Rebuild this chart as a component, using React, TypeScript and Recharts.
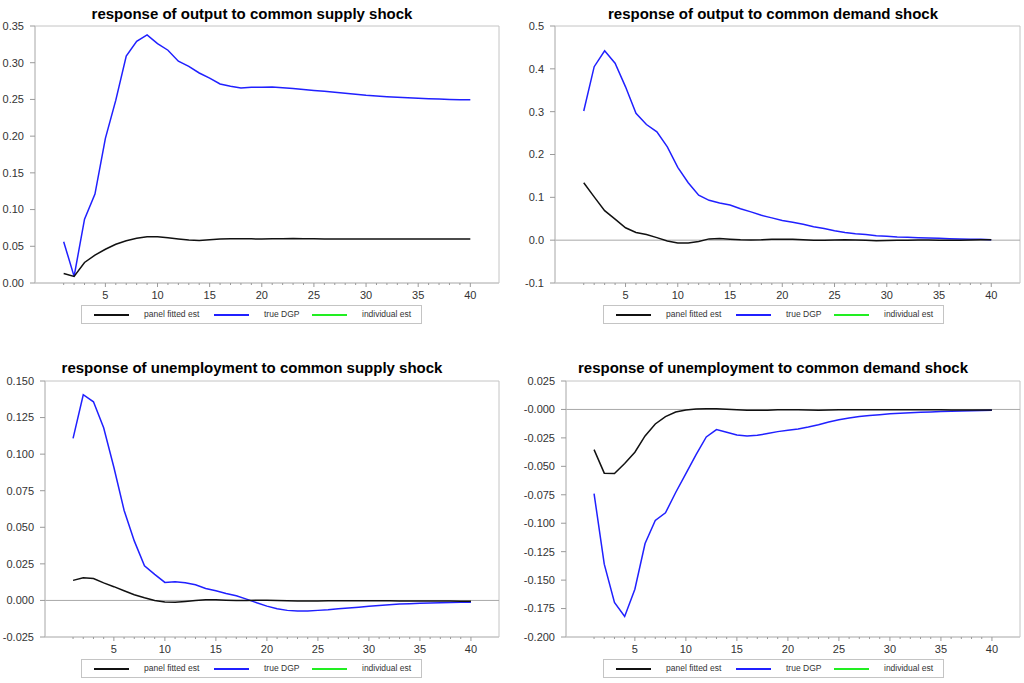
import { LineChart, Line, XAxis, YAxis, ReferenceLine, ReferenceArea } from "recharts";

const periods = [
  1, 2, 3, 4, 5, 6, 7, 8, 9, 10, 11, 12, 13, 14, 15, 16, 17, 18, 19, 20,
  21, 22, 23, 24, 25, 26, 27, 28, 29, 30, 31, 32, 33, 34, 35, 36, 37, 38, 39, 40,
];
const xTickLabels = ["5", "10", "15", "20", "25", "30", "35", "40"];

// output -> common supply shock
const outSupplyPanel = [
  0.013, 0.009, 0.028, 0.038, 0.046, 0.0527, 0.0576, 0.061, 0.063, 0.063,
  0.0617, 0.06, 0.0585, 0.058, 0.059, 0.06, 0.0604, 0.0602, 0.0601, 0.06,
  0.0603, 0.0604, 0.0606, 0.0603, 0.0601, 0.06, 0.06, 0.06, 0.06, 0.06,
  0.06, 0.06, 0.06, 0.06, 0.06, 0.06, 0.06, 0.06, 0.06, 0.06,
];
const outSupplyTrue = [
  0.0563, 0.009, 0.087, 0.121, 0.197, 0.249, 0.309, 0.329, 0.338, 0.326,
  0.317, 0.302, 0.295, 0.286, 0.279, 0.271, 0.268, 0.2655, 0.2665, 0.2665,
  0.267, 0.266, 0.265, 0.2635, 0.2622, 0.261, 0.2597, 0.2584, 0.2572, 0.2558,
  0.2548, 0.2538, 0.253, 0.2523, 0.2515, 0.251, 0.2505, 0.25, 0.2497, 0.2495,
];

// output -> common demand shock
const outDemandPanel = [
  0.134, 0.101, 0.069, 0.049, 0.029, 0.018, 0.013, 0.006, -0.002, -0.0066,
  -0.0066, -0.003, 0.003, 0.004, 0.0023, 0.0008, 0.0004, 0.0008, 0.002, 0.0023,
  0.002, 0.0008, -0.0004, -0.0004, 0.0004, 0.0008, 0.0004, -0.0004, -0.0012, -0.0008,
  -0.0004, 0, 0.0004, 0.0004, 0, -0.0004, 0, 0.0004, 0.0008, 0.0008,
];
const outDemandTrue = [
  0.3016, 0.405, 0.442, 0.413, 0.358, 0.296, 0.27, 0.253, 0.218, 0.17,
  0.134, 0.105, 0.093, 0.087, 0.082, 0.0735, 0.066, 0.058, 0.052, 0.046,
  0.0416, 0.037, 0.0315, 0.027, 0.022, 0.018, 0.015, 0.013, 0.0105, 0.009,
  0.0074, 0.0066, 0.0058, 0.005, 0.0043, 0.0035, 0.0027, 0.0023, 0.002, 0.0012,
];

// unemployment -> common supply shock
const unSupplyPanel = [
  0.0137, 0.0155, 0.015, 0.012, 0.0094, 0.0066, 0.0039, 0.0018, 0.0, -0.0011,
  -0.0013, -0.0007, 0.0, 0.0005, 0.0005, 0.0002, 0.0, 0.0, 0.0002, 0.0002,
  0.0, -0.0002, -0.0004, -0.0004, -0.0004, -0.0003, -0.0003, -0.0003, -0.0003, -0.0003,
  -0.0003, -0.0003, -0.0004, -0.0004, -0.0004, -0.0004, -0.0004, -0.0004, -0.0005, -0.0005,
];
const unSupplyTrue = [
  0.1108, 0.1406, 0.1358, 0.118, 0.091, 0.0617, 0.0407, 0.0237, 0.0178, 0.0123,
  0.0127, 0.0121, 0.0107, 0.0082, 0.0066, 0.0048, 0.0032, 0.0009, -0.0016, -0.0039,
  -0.0057, -0.0068, -0.0073, -0.0073, -0.0068, -0.0064, -0.0057, -0.0052, -0.0046, -0.0039,
  -0.0034, -0.003, -0.0025, -0.0023, -0.002, -0.0018, -0.0016, -0.0015, -0.0013, -0.0012,
];

// unemployment -> common demand shock
const unDemandPanel = [
  -0.0353, -0.056, -0.0563, -0.0476, -0.0376, -0.0233, -0.0128, -0.0063, -0.0022, -0.0005,
  0.0004, 0.0007, 0.0006, 0.0001, -0.0003, -0.0008, -0.0008, -0.0006, -0.0003, -0.0002,
  -0.0003, -0.0005, -0.0006, -0.0005, -0.0003, -0.0003, -0.0002, -0.0002, -0.0002, -0.0002,
  -0.0002, -0.0002, -0.0002, -0.0003, -0.0003, -0.0004, -0.0004, -0.0004, -0.0004, -0.0004,
];
const unDemandTrue = [
  -0.0739, -0.136, -0.1696, -0.182, -0.158, -0.1178, -0.0976, -0.0909, -0.073, -0.0564,
  -0.0397, -0.0242, -0.0177, -0.02, -0.0224, -0.0233, -0.0227, -0.0212, -0.0195, -0.0183,
  -0.0171, -0.0154, -0.0134, -0.011, -0.009, -0.0075, -0.0063, -0.0054, -0.0046, -0.0038,
  -0.0034, -0.003, -0.0025, -0.0022, -0.0019, -0.0016, -0.0013, -0.0011, -0.0009, -0.0008,
];

const yTicksOutSupply = [0, 0.05, 0.1, 0.15, 0.2, 0.25, 0.3, 0.35];
const yLabelsOutSupply = ["0.00", "0.05", "0.10", "0.15", "0.20", "0.25", "0.30", "0.35"];
const yTicksOutDemand = [-0.1, 0, 0.1, 0.2, 0.3, 0.4, 0.5];
const yLabelsOutDemand = ["-0.1", "0.0", "0.1", "0.2", "0.3", "0.4", "0.5"];
const yTicksUnSupply = [-0.025, 0, 0.025, 0.05, 0.075, 0.1, 0.125, 0.15];
const yLabelsUnSupply = ["-0.025", "0.000", "0.025", "0.050", "0.075", "0.100", "0.125", "0.150"];
const yTicksUnDemand = [-0.2, -0.175, -0.15, -0.125, -0.1, -0.075, -0.05, -0.025, 0, 0.025];
const yLabelsUnDemand = [
  "-0.200", "-0.175", "-0.150", "-0.125", "-0.100", "-0.075", "-0.050", "-0.025", "-0.000", "0.025",
];

const legendNames = ["panel fitted est", "true DGP", "individual est"];

const FONT = '"Liberation Sans", Arial, sans-serif';
const FRAME = "#c4c4c4";
const BLUE = "#2020ff";
const BLACK = "#111111";
const GREEN = "#22ee22";
const X_DOMAIN = [-1.75, 42.75];

function PeriodTick(props: any) {
  const { x, y, payload } = props;
  const v = payload.value;
  const major = v % 5 === 0;
  const label = major ? xTickLabels.find((t) => Number(t) === v) : null;
  return (
    <g>
      <line x1={x} x2={x} y1={y} y2={y + (major ? 4 : 2)} stroke="#9a9a9a" />
      {label && (
        <text x={x} y={y + 16} textAnchor="middle" fontSize={11} fontFamily={FONT} fill="#333">
          {label}
        </text>
      )}
    </g>
  );
}

function LegendBox({ left, top }: { left: number; top: number }) {
  const colors = [BLACK, BLUE, GREEN];
  const lineX = [12, 132, 230];
  return (
    <div
      style={{
        position: "absolute",
        left,
        top,
        width: 341,
        height: 19,
        border: `1px solid ${FRAME}`,
        boxSizing: "border-box",
        fontFamily: FONT,
        fontSize: 8.5,
        color: "#333",
      }}
    >
      {legendNames.map((name, i) => (
        <div key={name}>
          <div
            style={{
              position: "absolute",
              left: lineX[i],
              top: 8,
              width: 35,
              height: 1.5,
              background: colors[i],
            }}
          />
          <div style={{ position: "absolute", left: lineX[i] + 50, top: 3, lineHeight: "11px", whiteSpace: "nowrap" }}>
            {name}
          </div>
        </div>
      ))}
    </div>
  );
}

type PanelProps = {
  left: number;
  top: number;
  title: string;
  titleX: number;
  titleY: number;
  plotLeft: number;
  plotTop: number;
  plotRight: number;
  plotBottom: number;
  est: number[];
  dgp: number[];
  yTicks: number[];
  yLabels: string[];
  zeroLine: boolean;
  legendLeft: number;
  legendTop: number;
};

function Panel(p: PanelProps) {
  const rows = periods.map((t, i) => ({ t, est: p.est[i], dgp: p.dgp[i] }));
  const W = 512;
  const H = 340;
  const xAxisH = 20;
  const yMin = p.yTicks[0];
  const yMax = p.yTicks[p.yTicks.length - 1];
  return (
    <div style={{ position: "absolute", left: p.left, top: p.top, width: W, height: H + 3 }}>
      <div
        style={{
          position: "absolute",
          left: p.titleX,
          top: p.titleY,
          transform: "translateX(-50%)",
          whiteSpace: "nowrap",
          fontFamily: FONT,
          fontWeight: "bold",
          fontSize: 15,
          lineHeight: "18px",
          color: "#000",
        }}
      >
        {p.title}
      </div>
      <div style={{ position: "absolute", left: 0, top: 0 }}>
        <LineChart
          width={W}
          height={H}
          data={rows}
          margin={{ top: p.plotTop, right: W - p.plotRight, left: 0, bottom: H - p.plotBottom - xAxisH }}
        >
          <XAxis
            dataKey="t"
            type="number"
            domain={X_DOMAIN}
            ticks={periods}
            interval={0}
            height={xAxisH}
            tickSize={0}
            tickMargin={0}
            tickLine={false}
            axisLine={{ stroke: FRAME }}
            tick={<PeriodTick />}
          />
          <YAxis
            type="number"
            domain={[yMin, yMax]}
            ticks={p.yTicks}
            interval={0}
            width={p.plotLeft}
            tickSize={5}
            tickMargin={6}
            axisLine={{ stroke: FRAME }}
            tickLine={{ stroke: "#9a9a9a" }}
            tick={{ fontSize: 11, fontFamily: FONT, fill: "#333" }}
            tickFormatter={(v: number, i: number) => p.yLabels[i] ?? String(v)}
            allowDataOverflow
          />
          <ReferenceArea
            x1={X_DOMAIN[0]}
            x2={X_DOMAIN[1]}
            y1={yMin}
            y2={yMax}
            fill="none"
            stroke={FRAME}
            strokeWidth={1}
          />
          {p.zeroLine && <ReferenceLine y={0} stroke="#a8a8a8" strokeWidth={1} />}
          <Line
            dataKey="dgp"
            stroke={BLUE}
            strokeWidth={1.5}
            dot={false}
            type="linear"
            isAnimationActive={false}
          />
          <Line
            dataKey="est"
            stroke={BLACK}
            strokeWidth={1.5}
            dot={false}
            type="linear"
            isAnimationActive={false}
          />
        </LineChart>
      </div>
      <LegendBox left={p.legendLeft} top={p.legendTop} />
    </div>
  );
}

export default function App() {
  return (
    <div
      style={{
        position: "absolute",
        left: 0,
        top: 0,
        width: 1024,
        height: 683,
        background: "#fff",
        overflow: "hidden",
      }}
    >
      <Panel
        left={0}
        top={0}
        title="response of output to common supply shock"
        titleX={252}
        titleY={5}
        plotLeft={35}
        plotTop={26}
        plotRight={499}
        plotBottom={283}
        est={outSupplyPanel}
        dgp={outSupplyTrue}
        yTicks={yTicksOutSupply}
        yLabels={yLabelsOutSupply}
        zeroLine={false}
        legendLeft={81}
        legendTop={305}
      />
      <Panel
        left={512}
        top={0}
        title="response of output to common demand shock"
        titleX={261}
        titleY={5}
        plotLeft={43}
        plotTop={26}
        plotRight={508}
        plotBottom={283}
        est={outDemandPanel}
        dgp={outDemandTrue}
        yTicks={yTicksOutDemand}
        yLabels={yLabelsOutDemand}
        zeroLine={true}
        legendLeft={91}
        legendTop={305}
      />
      <Panel
        left={0}
        top={340}
        title="response of unemployment to common supply shock"
        titleX={252}
        titleY={19}
        plotLeft={45}
        plotTop={41}
        plotRight={499}
        plotBottom={297}
        est={unSupplyPanel}
        dgp={unSupplyTrue}
        yTicks={yTicksUnSupply}
        yLabels={yLabelsUnSupply}
        zeroLine={true}
        legendLeft={81}
        legendTop={319}
      />
      <Panel
        left={512}
        top={340}
        title="response of unemployment to common demand shock"
        titleX={261}
        titleY={19}
        plotLeft={54}
        plotTop={41}
        plotRight={508}
        plotBottom={297}
        est={unDemandPanel}
        dgp={unDemandTrue}
        yTicks={yTicksUnDemand}
        yLabels={yLabelsUnDemand}
        zeroLine={true}
        legendLeft={91}
        legendTop={319}
      />
    </div>
  );
}
